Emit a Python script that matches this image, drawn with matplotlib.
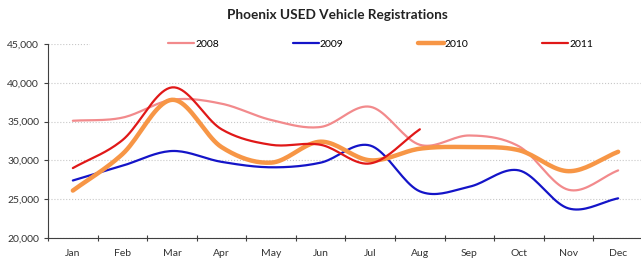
import matplotlib.pyplot as plt
from matplotlib.ticker import FuncFormatter
from matplotlib.patches import Rectangle
import numpy as np

plt.rcParams['font.family'] = ['Lato', 'DejaVu Sans']

months = ['Jan', 'Feb', 'Mar', 'Apr', 'May', 'Jun', 'Jul', 'Aug', 'Sep', 'Oct', 'Nov', 'Dec']
reg_2008 = [35100, 35500, 37800, 37300, 35200, 34300, 36900, 32000, 33200, 31800, 26200, 28700]
reg_2009 = [27400, 29300, 31200, 29800, 29100, 29700, 31900, 26000, 26600, 28700, 23800, 25100]
reg_2010 = [26100, 30800, 37800, 31700, 29700, 32400, 30000, 31500, 31700, 31300, 28600, 31100]
reg_2011 = [29000, 32600, 39400, 34000, 32000, 32000, 29600, 34000]


def smooth(y, n=20):
    # catmull-rom style curve through the points, like excel "smoothed line"
    y = np.asarray(y, dtype=float)
    x = np.arange(len(y), dtype=float)
    px = np.concatenate([[2 * x[0] - x[1]], x, [2 * x[-1] - x[-2]]])
    py = np.concatenate([[2 * y[0] - y[1]], y, [2 * y[-1] - y[-2]]])
    xs, ys = [], []
    t = np.linspace(0, 1, n, endpoint=False)
    for i in range(1, len(px) - 2):
        for arr, out in ((px, xs), (py, ys)):
            p0, p1, p2, p3 = arr[i - 1], arr[i], arr[i + 1], arr[i + 2]
            out.extend(0.5 * (2 * p1 + (-p0 + p2) * t + (2 * p0 - 5 * p1 + 4 * p2 - p3) * t ** 2
                              + (-p0 + 3 * p1 - 3 * p2 + p3) * t ** 3))
    xs.append(x[-1])
    ys.append(y[-1])
    return np.array(xs), np.array(ys)


fig = plt.figure(figsize=(6.41, 2.60), dpi=100)
ax = fig.add_axes([0.075, 0.085, 0.928, 0.746])

series = [('2008', reg_2008, '#F28A8C', 1.6),
          ('2009', reg_2009, '#1414C8', 1.6),
          ('2010', reg_2010, '#F79646', 3.2),
          ('2011', reg_2011, '#E01818', 1.6)]
for label, vals, color, lw in series:
    sx, sy = smooth(vals)
    ax.plot(sx, sy, color=color, lw=lw, label=label, solid_capstyle='round')

ax.set_xlim(-0.5, 11.5)
ax.set_ylim(20000, 45000)
ax.set_yticks(range(20000, 45001, 5000))
ax.yaxis.set_major_formatter(FuncFormatter(lambda v, p: f'{int(v):,}'))
ax.set_xticks(np.arange(-0.5, 12, 1))
ax.set_xticklabels([])
ax.set_xticks(range(12), minor=True)
ax.set_xticklabels(months, minor=True)
ax.tick_params(axis='x', which='minor', length=0, pad=8, labelsize=7.5, colors='#333333')
ax.tick_params(axis='x', which='major', length=4, direction='inout', color='#404040')
ax.tick_params(axis='y', length=3, labelsize=7.5, colors='#333333', color='#404040')
ax.grid(axis='y', color='#C8C8C8', linestyle=':', linewidth=0.8)
ax.set_axisbelow(True)
for s in ['top', 'right']:
    ax.spines[s].set_visible(False)
for s in ['left', 'bottom']:
    ax.spines[s].set_color('#404040')

# white legend band hides the top gridline, as in the original
fig.patches.append(Rectangle((90 / 641, 1 - 52 / 260), 1, 16 / 260, transform=fig.transFigure,
                             facecolor='white', edgecolor='none', zorder=3))

leg = fig.legend(loc='center left', bbox_to_anchor=(168 / 641, 1 - 44 / 260), ncol=4,
                 frameon=False, fontsize=7.5, handlelength=2.5, handletextpad=0.1,
                 columnspacing=7.1, borderpad=0, borderaxespad=0)
leg.set_zorder(4)

fig.suptitle('Phoenix USED Vehicle Registrations', x=0.526, y=0.965, fontsize=9.8,
             fontweight='bold', color='#222222')

fig.savefig('out.png', dpi=100)
